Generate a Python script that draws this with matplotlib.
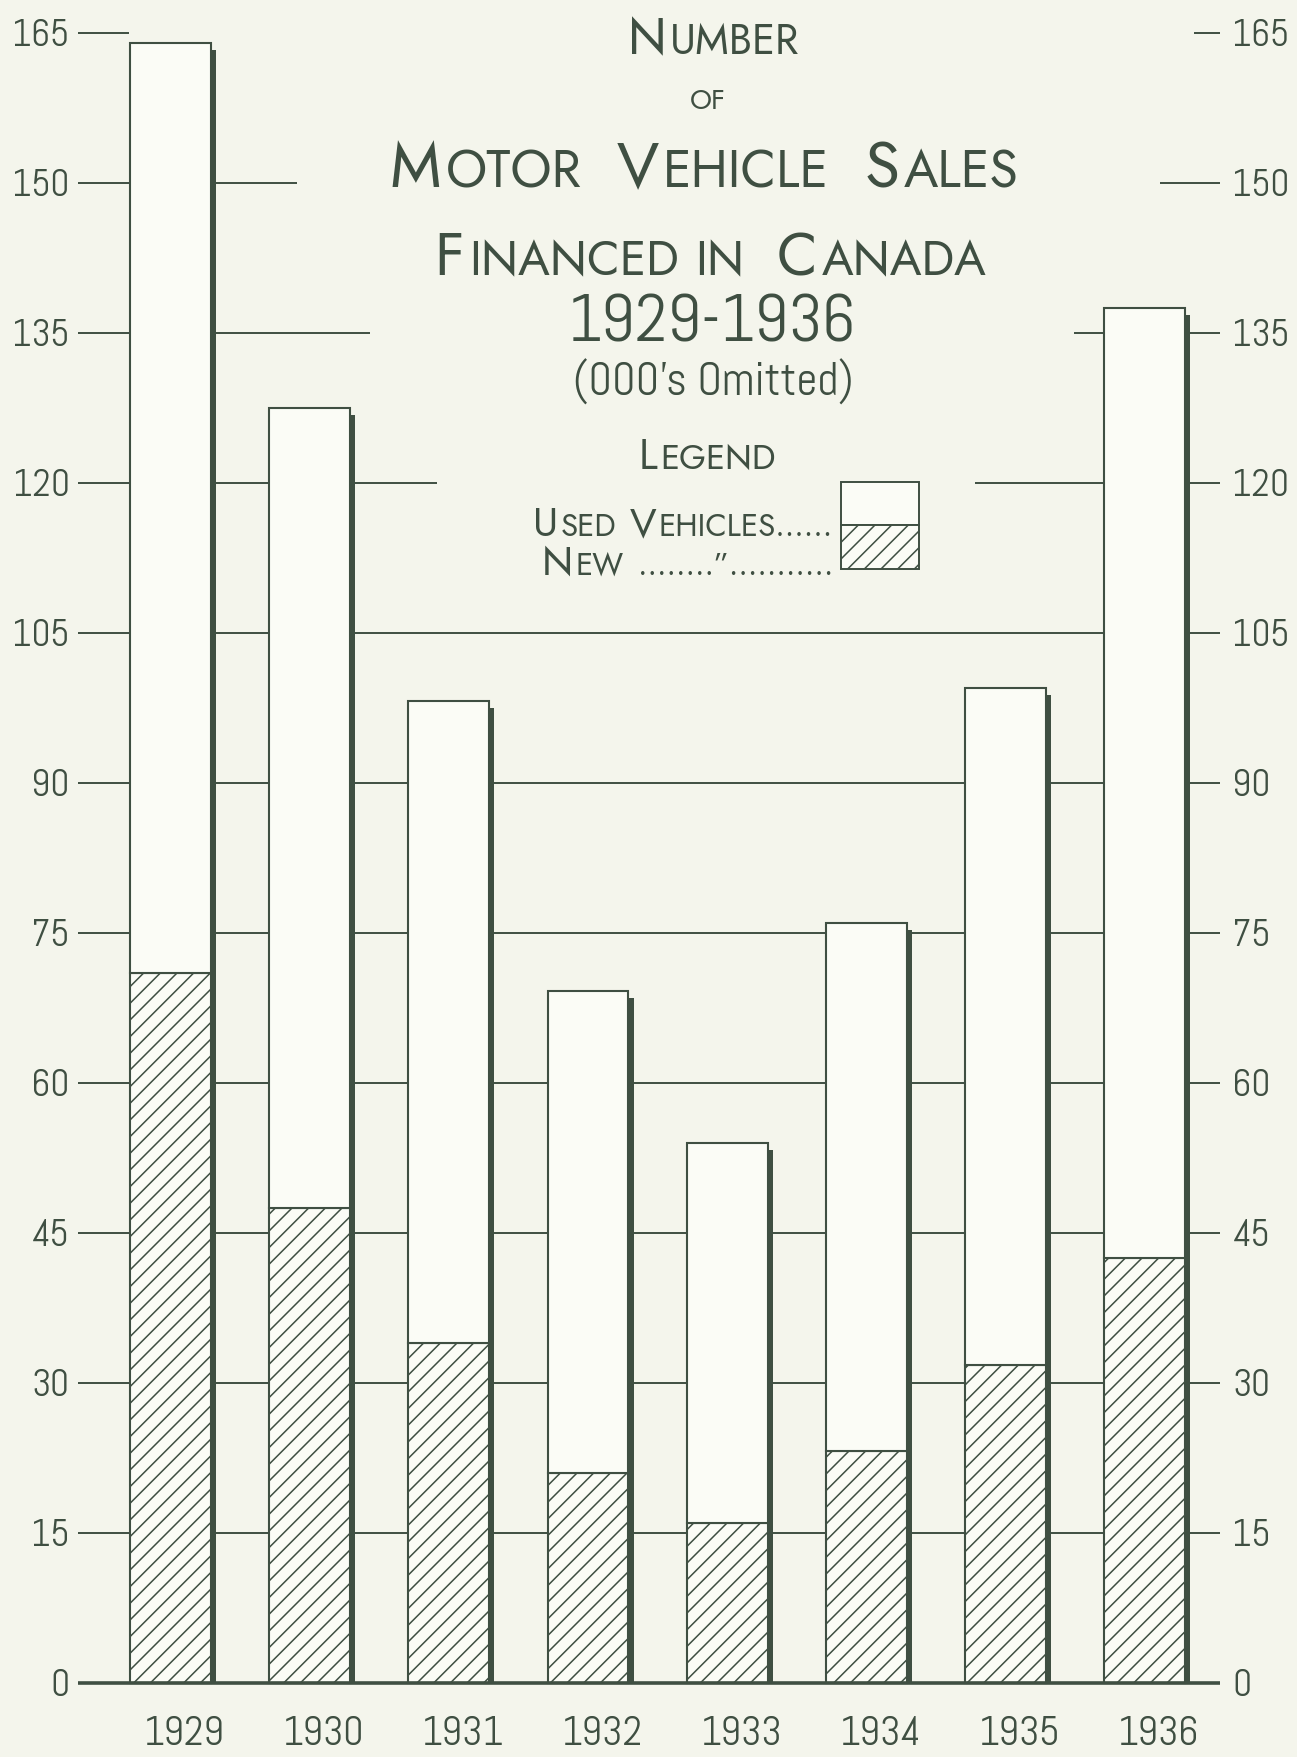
import matplotlib
matplotlib.use('Agg')
import matplotlib.pyplot as plt
from matplotlib.patches import Rectangle
from matplotlib import font_manager as fm
import numpy as np

# ---------------- data ----------------
years = ['1929', '1930', '1931', '1932', '1933', '1934', '1935', '1936']
new_vehicles = [71.0, 47.5, 34.0, 21.0, 16.0, 23.2, 31.8, 42.5]
used_vehicles = [93.0, 80.0, 64.2, 48.2, 38.0, 52.8, 67.7, 95.0]
y_ticks = [0, 15, 30, 45, 60, 75, 90, 105, 120, 135, 150, 165]

# ---------------- fonts ----------------
avail = {f.name for f in fm.fontManager.ttflist}


def pick(names):
    for n in names:
        if n in avail:
            return n
    return 'DejaVu Sans'


TITLE = pick(['Jost', 'Questrial', 'Didact Gothic', 'DejaVu Sans'])
NARROW = pick(['Abel', 'Pathway Gothic One', 'Barlow Condensed', 'DejaVu Sans'])

BG = '#f4f5ec'
INK = '#3f4f42'
BAR = '#fbfcf6'
plt.rcParams['hatch.linewidth'] = 1.1

W, H = 1297, 1757
fig = plt.figure(figsize=(W / 100, H / 100), dpi=100, facecolor=BG)

ax_left, ax_right = 78, 1220
ax = fig.add_axes([ax_left / W, 0.02504, (ax_right - ax_left) / W, 0.97354])
ax.set_facecolor(BG)
ax.set_xlim(-0.664, 7.540)
ax.set_ylim(-3, 168)
for s in ax.spines.values():
    s.set_visible(False)
ax.set_xticks([])
ax.set_yticks(y_ticks)
ax.set_yticklabels([str(t) for t in y_ticks], family=[NARROW, 'DejaVu Sans'])
ax.tick_params(axis='y', length=0, pad=6, labelsize=27, labelcolor=INK)
ax.set_axisbelow(True)
ax.yaxis.grid(True, color=INK, lw=1.4)

ax2 = ax.twinx()
ax2.set_ylim(ax.get_ylim())
ax2.set_yticks(y_ticks)
ax2.set_yticklabels([str(t) for t in y_ticks], family=[NARROW, 'DejaVu Sans'])
ax2.tick_params(axis='y', length=0, pad=9, labelsize=27, labelcolor=INK)
for s in ax2.spines.values():
    s.set_visible(False)

# the title block interrupts the gridlines
mask_steps = [(112.5, 127.5, 1.916, 5.78), (127.5, 142.5, 1.433, 6.49),
              (142.5, 157.5, 0.91, 7.11), (157.5, 172, -0.298, 7.35)]
for y0, y1, x0, x1 in mask_steps:
    ax.add_patch(Rectangle((x0, y0), x1 - x0, y1 - y0, facecolor=BG,
                           edgecolor='none', zorder=1, clip_on=False))

x = np.arange(len(years))
w = 0.58
new_a = np.array(new_vehicles)
used_a = np.array(used_vehicles)
totals = new_a + used_a
ax.bar(x + 0.038, totals - 0.7, width=w, color=INK, zorder=2)   # drop shadow
ax.bar(x, new_a, width=w, facecolor=BAR, edgecolor=INK, hatch='//', lw=1.5, zorder=3)
ax.bar(x, used_a, bottom=new_a, width=w, facecolor=BAR, edgecolor=INK, lw=1.5, zorder=3)
ax.axhline(0, color=INK, lw=2.6, zorder=4)

for xi, yr in zip(x, years):
    ax.text(xi + 0.1, -3.3, yr, ha='center', va='top', fontsize=29,
            family=[NARROW, 'DejaVu Sans'], color=INK)

renderer = fig.canvas.get_renderer()


def draw_pieces(pieces, xpx, ypx, align='center', family=TITLE, gap=0.6, track=0.1):
    texts, widths = [], []
    for s, size in pieces:
        if s is None:
            texts.append(None)
            widths.append(gap * size * 100 / 72)
            continue
        t = fig.text(0, 0, s, fontsize=size, family=[family, 'DejaVu Sans'], color=INK,
                     ha='left', va='baseline')
        widths.append(t.get_window_extent(renderer=renderer).width + track * size)
        texts.append(t)
    total = sum(widths)
    start = xpx - total / 2 if align == 'center' else xpx - total
    cur = start
    for t, wd in zip(texts, widths):
        if t is not None:
            t.set_position((cur / W, 1 - ypx / H))
        cur += wd


draw_pieces([('N', 36), ('UMBER', 30)], 715, 54)
draw_pieces([('OF', 20)], 709, 109)
B, S = 46.0, 37.5
draw_pieces([('M', B), ('OTOR', S), (None, S), ('V', B), ('EHICLE', S), (None, S),
             ('S', B), ('ALES', S)], 706, 187)
B, S = 43.0, 34.5
draw_pieces([('F', B), ('INANCED', S), (None, S * 0.45), ('IN', S), (None, S),
             ('C', B), ('ANADA', S)], 712, 275)
draw_pieces([('1929-1936', 48)], 712, 342, family=NARROW, track=0)
draw_pieces([('(000\u2019s Omitted)', 33)], 713, 396, family=NARROW, track=0)
draw_pieces([('L', 30), ('EGEND', 25)], 708, 469)
draw_pieces([('U', 29.0), ('SED', 22.5), (None, 22.0), ('V', 29.0), ('EHICLES......', 22.5)],
            835, 536, align='right', gap=0.4, track=0.08)
draw_pieces([('N', 29.0), ('EW', 22.5), (None, 22.0), ('........\u201d...........', 22.5)],
            835, 575, align='right', gap=0.4, track=0.08)

# legend swatches
lx0, lx1 = 841, 919
fig.add_artist(Rectangle((lx0 / W, 1 - 525 / H), (lx1 - lx0) / W, 43 / H,
                         transform=fig.transFigure, facecolor=BAR, edgecolor=INK, lw=1.4))
fig.add_artist(Rectangle((lx0 / W, 1 - 569 / H), (lx1 - lx0) / W, 44 / H,
                         transform=fig.transFigure, facecolor=BAR, edgecolor=INK,
                         hatch='//', lw=1.4))

fig.savefig('out.png', dpi=100, facecolor=BG)
